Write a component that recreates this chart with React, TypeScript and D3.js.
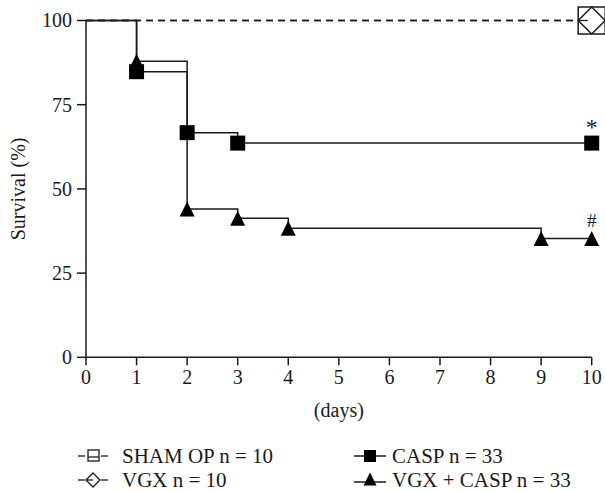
import React from "react";
import * as d3 from "d3";

// ---- data ----
const xTicks = [0, 1, 2, 3, 4, 5, 6, 7, 8, 9, 10];
const yTicks = [0, 25, 50, 75, 100];

const shamDays = [0, 10];
const shamSurv = [100, 100];
const vgxDays = [0, 10];
const vgxSurv = [100, 100];

const caspDays = [0, 1, 2, 3, 10];
const caspSurv = [100, 84.8, 66.7, 63.6, 63.6];
const caspMarkerIdx = [1, 2, 3, 4];

const vgxCaspDays = [0, 1, 2, 3, 4, 9, 10];
const vgxCaspSurv = [100, 87.9, 44.0, 41.3, 38.3, 35.3, 35.3];
const vgxCaspMarkerIdx = [1, 2, 3, 4, 5, 6];

const legendLabels = ["SHAM OP n = 10", "VGX n = 10", "CASP n = 33", "VGX + CASP n = 33"];
const annotationDays = [10, 10];
const annotationValues = [63.6, 35.3];
const annotationTexts = ["*", "#"];

const FONT = "Liberation Serif";
const INK = "#1a1a1a";

export default function App() {
  const x = d3.scaleLinear().domain([0, 10]).range([86, 591.7]);
  const y = d3.scaleLinear().domain([0, 100]).range([357.3, 20.5]);

  const step = d3
    .line<[number, number]>()
    .x((d) => x(d[0]))
    .y((d) => y(d[1]))
    .curve(d3.curveStepAfter);

  const zip = (a: number[], b: number[]) => a.map((v, i) => [v, b[i]] as [number, number]);

  const sq = 15;
  const tri = (cx: number, cy: number, s: number) =>
    `M${cx},${cy - s / 2}L${cx + s / 2},${cy + s / 2}L${cx - s / 2},${cy + s / 2}Z`;

  const openSize = 27;
  const sx = x(10);
  const sy = y(100);

  const legRows = [456, 480];
  const legCols = [78, 354];
  const legFont = 21;
  const ts: React.CSSProperties = { fontFamily: FONT };

  return (
    <svg
      width={605}
      height={492}
      style={{ position: "absolute", left: 0, top: 0, background: "#fff", fontFamily: FONT }}
    >
      <line x1={x(0)} x2={x(0)} y1={y(0)} y2={y(100)} stroke={INK} strokeWidth={1.5} />
      <line x1={x(0)} x2={x(10)} y1={y(0)} y2={y(0)} stroke={INK} strokeWidth={1.5} />
      {yTicks.map((t) => (
        <g key={"y" + t}>
          <line x1={x(0) - 9} x2={x(0)} y1={y(t)} y2={y(t)} stroke={INK} strokeWidth={1.5} />
          <text style={ts} x={x(0) - 14} y={y(t)} dy="0.34em" textAnchor="end" fontSize={20} fill={INK}>
            {t}
          </text>
        </g>
      ))}
      {xTicks.map((t) => (
        <g key={"x" + t}>
          <line x1={x(t)} x2={x(t)} y1={y(0)} y2={y(0) + 8} stroke={INK} strokeWidth={1.5} />
          <text style={ts} x={x(t)} y={y(0) + 27} textAnchor="middle" fontSize={20} fill={INK}>
            {t}
          </text>
        </g>
      ))}
      <text style={ts} x={(x(0) + x(10)) / 2} y={417} textAnchor="middle" fontSize={20} fill={INK}>
        (days)
      </text>
      <text
        style={ts}
        transform={`translate(25,${(y(0) + y(100)) / 2}) rotate(-90)`}
        textAnchor="middle"
        fontSize={20}
        fill={INK}
      >
        Survival (%)
      </text>

      <path d={step(zip(shamDays, shamSurv)) || ""} fill="none" stroke={INK} strokeWidth={1.3} strokeDasharray="7,5" />
      <path d={step(zip(vgxDays, vgxSurv)) || ""} fill="none" stroke={INK} strokeWidth={1.3} strokeDasharray="7,5" />

      <path d={step(zip(vgxCaspDays, vgxCaspSurv)) || ""} fill="none" stroke={INK} strokeWidth={1.5} />
      <path d={step(zip(caspDays, caspSurv)) || ""} fill="none" stroke={INK} strokeWidth={1.5} />

      {vgxCaspMarkerIdx.map((i) => (
        <path key={"t" + i} d={tri(x(vgxCaspDays[i]), y(vgxCaspSurv[i]), 15)} fill="#000" />
      ))}
      {caspMarkerIdx.map((i) => (
        <rect
          key={"s" + i}
          x={x(caspDays[i]) - sq / 2}
          y={y(caspSurv[i]) - sq / 2}
          width={sq}
          height={sq}
          fill="#000"
        />
      ))}

      <rect
        x={sx - openSize / 2}
        y={sy - openSize / 2}
        width={openSize}
        height={openSize}
        fill="#fff"
        stroke={INK}
        strokeWidth={1.5}
      />
      <line x1={sx - openSize / 2} x2={sx - 4} y1={sy} y2={sy} stroke={INK} strokeWidth={1.3} />
      <path
        d={`M${sx - openSize / 2},${sy}L${sx},${sy - openSize / 2}L${sx + openSize / 2},${sy}L${sx},${sy + openSize / 2}Z`}
        fill="none"
        stroke={INK}
        strokeWidth={1.5}
      />

      {annotationTexts.map((t, i) => (
        <text
          style={ts}
          key={"a" + i}
          x={x(annotationDays[i])}
          y={y(annotationValues[i]) + (t === "*" ? -8 : -11.5)}
          textAnchor="middle"
          fontSize={t === "*" ? 24 : 19}
          fill={INK}
        >
          {t}
        </text>
      ))}

      {/* legend */}
      <g>
        <line x1={legCols[0]} x2={legCols[0] + 7} y1={legRows[0]} y2={legRows[0]} stroke={INK} strokeWidth={1.3} />
        <line x1={legCols[0] + 23} x2={legCols[0] + 30} y1={legRows[0]} y2={legRows[0]} stroke={INK} strokeWidth={1.3} />
        <rect x={legCols[0] + 10} y={legRows[0] - 6} width={11} height={11} fill="none" stroke={INK} strokeWidth={1.3} />
        <line x1={legCols[0] + 10} x2={legCols[0] + 21} y1={legRows[0] + 1} y2={legRows[0] + 1} stroke={INK} strokeWidth={1.3} />
        <text style={ts} x={legCols[0] + 44} y={legRows[0]} dy="0.34em" fontSize={legFont} fill={INK}>
          {legendLabels[0]}
        </text>
      </g>
      <g>
        <line x1={legCols[0]} x2={legCols[0] + 7} y1={legRows[1]} y2={legRows[1]} stroke={INK} strokeWidth={1.3} />
        <line x1={legCols[0] + 23} x2={legCols[0] + 30} y1={legRows[1]} y2={legRows[1]} stroke={INK} strokeWidth={1.3} />
        <path
          d={`M${legCols[0] + 8},${legRows[1]}L${legCols[0] + 15},${legRows[1] - 7}L${legCols[0] + 22},${legRows[1]}L${legCols[0] + 15},${legRows[1] + 7}Z`}
          fill="none"
          stroke={INK}
          strokeWidth={1.3}
        />
        <line x1={legCols[0] + 8} x2={legCols[0] + 15} y1={legRows[1]} y2={legRows[1]} stroke={INK} strokeWidth={1.3} />
        <text style={ts} x={legCols[0] + 44} y={legRows[1]} dy="0.34em" fontSize={legFont} fill={INK}>
          {legendLabels[1]}
        </text>
      </g>
      <g>
        <line x1={legCols[1]} x2={legCols[1] + 32} y1={legRows[0]} y2={legRows[0]} stroke={INK} strokeWidth={1.5} />
        <rect x={legCols[1] + 10} y={legRows[0] - 6} width={12} height={12} fill="#000" />
        <text style={ts} x={legCols[1] + 38} y={legRows[0]} dy="0.34em" fontSize={legFont} fill={INK}>
          {legendLabels[2]}
        </text>
      </g>
      <g>
        <line x1={legCols[1]} x2={legCols[1] + 32} y1={legRows[1] + 2} y2={legRows[1] + 2} stroke={INK} strokeWidth={1.5} />
        <path d={tri(legCols[1] + 16, legRows[1] - 1, 13)} fill="#000" />
        <text style={ts} x={legCols[1] + 38} y={legRows[1]} dy="0.34em" fontSize={legFont} fill={INK}>
          {legendLabels[3]}
        </text>
      </g>
    </svg>
  );
}
